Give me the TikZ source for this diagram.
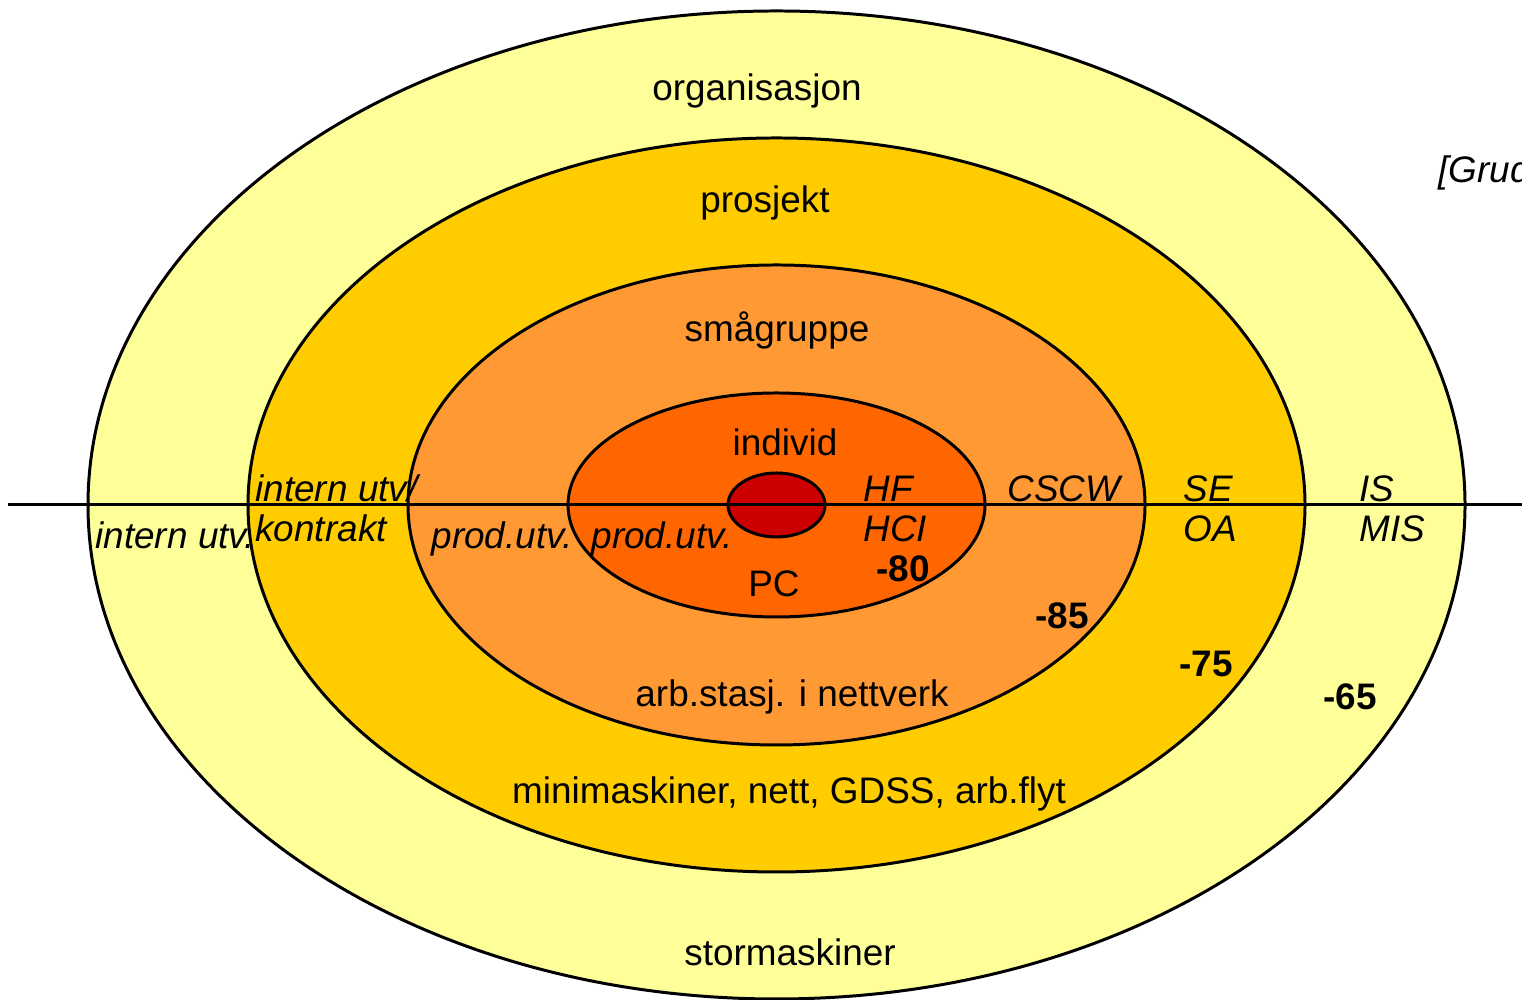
\documentclass[tikz,border=0pt]{standalone}
\usepackage{fontspec}
\setmainfont{Liberation Sans}
\usetikzlibrary{positioning}

\definecolor{ringorg}{HTML}{FFFF99}
\definecolor{ringprj}{HTML}{FFCC00}
\definecolor{ringgrp}{HTML}{FF9933}
\definecolor{ringind}{HTML}{FF6600}
\definecolor{ringcore}{HTML}{CC0000}

\begin{document}
\begin{tikzpicture}[line width=0.85pt,
  ring/.style={draw=black},
  lbl/.style={inner sep=0pt,font=\fontsize{10.5}{12}\selectfont},
  field/.style={lbl,anchor=base west,font=\fontsize{10.5}{12}\selectfont\itshape},
  year/.style={lbl,font=\fontsize{10.5}{12}\selectfont\bfseries}]
 \useasboundingbox (0,0) rectangle (15.22,10);
 %\draw[help lines] (0,0) grid (15,10);

 \coordinate (c) at (7.765,4.95);
 \fill[ring,fill=ringorg]  (c) ellipse [x radius=6.885cm,y radius=4.94cm];
 \fill[ring,fill=ringprj]  (c) ellipse [x radius=5.285cm,y radius=3.67cm];
 \fill[ring,fill=ringgrp]  (c) ellipse [x radius=3.685cm,y radius=2.40cm];
 \fill[ring,fill=ringind]  (c) ellipse [x radius=2.085cm,y radius=1.12cm];
 \fill[ring,fill=ringcore] (c) ellipse [x radius=0.485cm,y radius=0.32cm];

 \coordinate (axl) at (0.08,4.95);
 \coordinate (axr) at (15.22,4.95);
 \draw (axl) -- (axr);

 % levels
 \node[lbl] (org)  at (7.57,9.09) {organisasjon};
 \node[lbl] (prj)  at (7.65,7.97) {prosjekt};
 \node[lbl] (grp)  at (7.77,6.70) {smågruppe};
 \node[lbl] (ind)  at (7.85,5.58) {individ};

 % technology
 \node[lbl] (pc)   at (7.74,4.16) {PC};
 \node[lbl] (arb)  at (7.92,3.03) {arb.stasj. i nettverk};
 \node[lbl] (mini) at (7.89,2.06) {minimaskiner, nett, GDSS, arb.flyt};
 \node[lbl] (stor) at (7.90,0.48) {stormaskiner};

 % fields
 \node[field] (hf)   at (8.62,4.98)  {HF};
 \node[field] (hci)  at (8.62,4.58)  {HCI};
 \node[field] (cscw) at (10.06,4.98) {CSCW};
 \node[field] (se)   at (11.82,4.98) {SE};
 \node[field] (oa)   at (11.82,4.58) {OA};
 \node[field] (is)   at (13.58,4.98) {IS};
 \node[field] (mis)  at (13.58,4.58) {MIS};
 \node[field] (iuk)  at (2.54,4.98)  {intern utv/};
 \node[field] (kon)  at (2.54,4.58)  {kontrakt};
 \node[field] (iu)   at (0.94,4.51)  {intern utv.};
 \node[field] (pu1)  at (4.30,4.51)  {prod.utv.};
 \node[field] (pu2)  at (5.90,4.51)  {prod.utv.};
 \node[field] (src)  at (14.37,8.17) {[Grudin]};

 % decades
 \node[year] (y80) at (9.03,4.31)  {-80};
 \node[year] (y85) at (10.62,3.84) {-85};
 \node[year] (y75) at (12.06,3.36) {-75};
 \node[year] (y65) at (13.50,3.03) {-65};
\end{tikzpicture}
\end{document}
